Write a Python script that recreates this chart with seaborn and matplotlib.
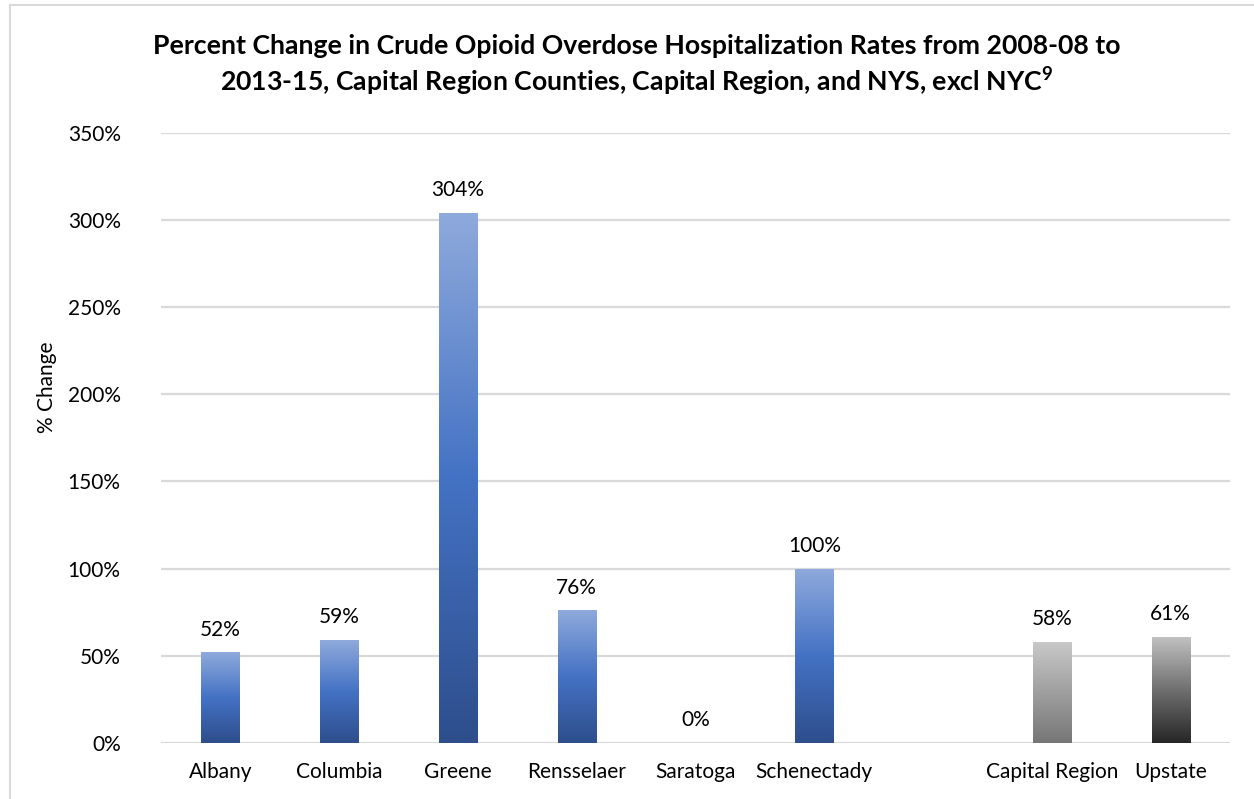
import numpy as np
import pandas as pd
import matplotlib
matplotlib.use("Agg")
import matplotlib.pyplot as plt
import seaborn as sns
from matplotlib.colors import LinearSegmentedColormap
from matplotlib.lines import Line2D

# ---- data ----
categories = ["Albany", "Columbia", "Greene", "Rensselaer", "Saratoga",
              "Schenectady", " ", "Capital Region", "Upstate"]
pct_change = [52, 59, 304, 76, 0, 100, np.nan, 58, 61]
value_labels = ["52%", "59%", "304%", "76%", "0%", "100%", "", "58%", "61%"]
ytick_vals = [0, 50, 100, 150, 200, 250, 300, 350]
ytick_labels = ["0%", "50%", "100%", "150%", "200%", "250%", "300%", "350%"]
title = ("Percent Change in Crude Opioid Overdose Hospitalization Rates from 2008-08 to\n"
         "2013-15, Capital Region Counties, Capital Region, and NYS, excl NYC$^{9}$")
ylabel = "% Change"

df = pd.DataFrame({"region": categories, "pct": pct_change})

sns.set_theme(style="white")
plt.rcParams["font.family"] = ["Lato", "DejaVu Sans"]
plt.rcParams["mathtext.fontset"] = "custom"
plt.rcParams["mathtext.rm"] = "Lato:bold"
plt.rcParams["mathtext.it"] = "Lato:bold"
plt.rcParams["mathtext.bf"] = "Lato:bold"
plt.rcParams["mathtext.default"] = "rm"

fig = plt.figure(figsize=(12.54, 7.99), dpi=100)
W, H = 1254, 799
ax = fig.add_axes([161 / W, 1 - 743 / H, (1230 - 161) / W, (743 - 132.7) / H])

sns.barplot(data=df, x="region", y="pct", order=categories, ax=ax,
            width=0.32, color="#4472C4", errorbar=None)

ax.set_xlim(-0.5, 8.5)
ax.set_ylim(0, 350)

blue_cmap = LinearSegmentedColormap.from_list(
    "blue", [(0, "#2E4E8C"), (0.5, "#4472C4"), (1, "#8FAADC")])
grey1_cmap = LinearSegmentedColormap.from_list(
    "g1", [(0, "#767676"), (1, "#C9C9C9")])
grey2_cmap = LinearSegmentedColormap.from_list(
    "g2", [(0, "#262626"), (0.5, "#707070"), (1, "#C2C2C2")])
cmaps = [blue_cmap] * 7 + [grey1_cmap, grey2_cmap]

grad = np.linspace(0, 1, 256).reshape(-1, 1)
for p in list(ax.patches):
    h = p.get_height()
    x0 = p.get_x()
    w = p.get_width()
    if not np.isfinite(h) or h <= 0:
        p.set_visible(False)
        continue
    idx = int(round(x0 + w / 2))
    p.set_facecolor("none")
    p.set_edgecolor("none")
    im = ax.imshow(grad, cmap=cmaps[idx], origin="lower", aspect="auto",
                   extent=[x0, x0 + w, 0, h], zorder=2, interpolation="bilinear")
    im.set_clip_path(p)

ax.set_xlim(-0.5, 8.5)
ax.set_ylim(0, 350)

# value labels
for i, (v, lab) in enumerate(zip(pct_change, value_labels)):
    if lab == "" or not np.isfinite(v):
        continue
    ax.annotate(lab, xy=(i, v), xytext=(0, 12), textcoords="offset points",
                ha="center", va="baseline", fontsize=15, color="#000000")

ax.set_yticks(ytick_vals)
ax.set_yticklabels(ytick_labels)
ax.yaxis.grid(True, color="#D9D9D9", linewidth=1.6)
ax.set_axisbelow(True)
for s in ax.spines.values():
    s.set_visible(False)
ax.tick_params(axis="y", length=0, pad=29, labelsize=15, labelcolor="#000000")
ax.tick_params(axis="x", length=0, pad=14, labelsize=15, labelcolor="#000000")
ax.set_xlabel("")
ax.set_ylabel("")

fig.text(47 / W, 1 - 387 / H, ylabel, rotation=90, ha="center", va="center",
         fontsize=15, color="#000000")

fig.text(637 / W, 1 - 66 / H, title, ha="center", va="center",
         fontsize=19.2, fontweight="bold", color="#000000", linespacing=1.28)

# outer frame lines
fig.add_artist(Line2D([10 / W, 1.0], [1 - 5 / H, 1 - 5 / H], color="#D9D9D9",
                      linewidth=1.5, transform=fig.transFigure))
fig.add_artist(Line2D([10 / W, 10 / W], [0, 1 - 5 / H], color="#D9D9D9",
                      linewidth=1.5, transform=fig.transFigure))

fig.savefig("out.png", dpi=100)
